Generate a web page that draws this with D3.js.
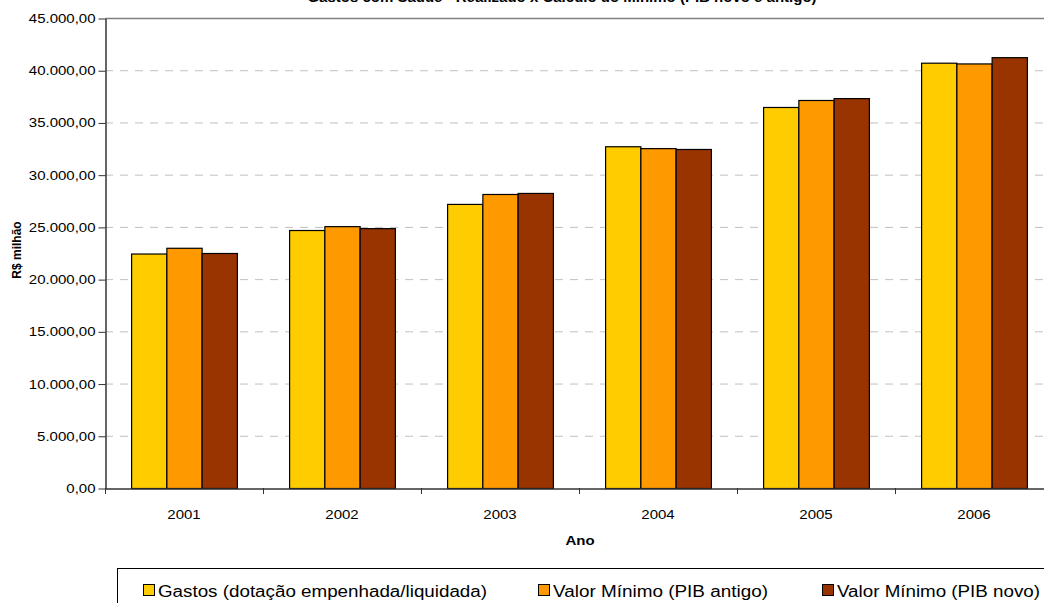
<!DOCTYPE html>
<html>
<head>
<meta charset="utf-8">
<script src="https://cdnjs.cloudflare.com/ajax/libs/d3/7.8.5/d3.min.js"></script>
<style>
  body { margin: 0; background: #fff; }
  svg { font-family: "Liberation Sans", Arial, sans-serif; }
</style>
</head>
<body>
<div id="chart"></div>
<script>
var svgWidth = 1044;
var svgHeight = 603;

// data
var years = ["2001", "2002", "2003", "2004", "2005", "2006"];
var seriesNames = ["Gastos (dotação empenhada/liquidada)", "Valor Mínimo (PIB antigo)", "Valor Mínimo (PIB novo)"];
var gastos   = [22450, 24700, 27200, 32720, 36480, 40720];
var pibAntigo = [23000, 25070, 28150, 32540, 37150, 40650];
var pibNovo   = [22500, 24880, 28250, 32460, 37330, 41250];
var yTicks = [0, 5000, 10000, 15000, 20000, 25000, 30000, 35000, 40000, 45000];
var colors = ["#FFCC00", "#FF9900", "#993300"];

var margin = { top: 18, left: 105 };
var plotRight = 1053;
var plotBottom = 488;
var fontFam = "'Liberation Sans', Arial, sans-serif";
var stretch = 1.2; // the original picture is a bit wider than tall

var svg = d3.select("#chart")
  .append("svg")
  .attr("width", svgWidth)
  .attr("height", svgHeight);

// widen a text selection horizontally
function widen(sel, k) {
  sel.each(function() {
    var len = this.getComputedTextLength();
    d3.select(this)
      .attr("textLength", len * k)
      .attr("lengthAdjust", "spacingAndGlyphs");
  });
}

// title (cut off by the top edge like the original)
svg.append("text")
  .attr("x", 562)
  .attr("y", 1.5)
  .attr("text-anchor", "middle")
  .style("font-size", "15px")
  .style("font-weight", "bold")
  .text("Gastos com Saúde - Realizado x Cálculo do Mínimo (PIB novo e antigo)");

var xScale = d3.scaleBand()
  .domain(years)
  .range([margin.left, plotRight]);

var xInner = d3.scaleBand()
  .domain(d3.range(3))
  .range([0, xScale.bandwidth()])
  .paddingOuter(0.74)
  .paddingInner(0);

var yScale = d3.scaleLinear()
  .domain([0, 45000])
  .range([plotBottom, margin.top]);

var fmt = d3.formatLocale({ decimal: ",", thousands: ".", grouping: [3], currency: ["R$", ""] }).format(",.2f");

// gridlines
svg.append("g")
  .selectAll("line")
  .data(yTicks.filter(d => d > 0 && d < 45000))
  .enter()
  .append("line")
  .attr("x1", margin.left)
  .attr("x2", plotRight)
  .attr("y1", d => yScale(d) + 0.5)
  .attr("y2", d => yScale(d) + 0.5)
  .attr("stroke", "#c0c0c0")
  .attr("stroke-dasharray", "8,7");

// top border of plot area
svg.append("line")
  .attr("x1", margin.left)
  .attr("x2", plotRight)
  .attr("y1", yScale(45000) + 0.5)
  .attr("y2", yScale(45000) + 0.5)
  .attr("stroke", "#808080")
  .attr("stroke-width", 1.5);

// bars
var series = [gastos, pibAntigo, pibNovo];
var groups = svg.append("g")
  .selectAll("g")
  .data(years)
  .enter()
  .append("g")
  .attr("transform", d => `translate(${xScale(d)},0)`);

groups.selectAll("rect")
  .data((d, i) => series.map((s, k) => ({ k: k, v: s[i] })))
  .enter()
  .append("rect")
  .attr("x", d => xInner(d.k) + 0.5)
  .attr("width", xInner.bandwidth())
  .attr("y", d => yScale(d.v) + 0.5)
  .attr("height", d => yScale(0) - yScale(d.v))
  .attr("fill", d => colors[d.k])
  .attr("stroke", "#000")
  .attr("stroke-width", 1.2);

// y axis
var leftAxis = d3.axisLeft(yScale)
  .tickValues(yTicks)
  .tickFormat(fmt)
  .tickSize(7)
  .tickPadding(3)
  .tickSizeOuter(0);

var yAxis = svg.append("g")
  .attr("transform", `translate(${margin.left + 0.5},0.5)`)
  .call(leftAxis);
yAxis.select(".domain").attr("stroke", "#333").attr("stroke-width", 1.5);
yAxis.selectAll(".tick line").attr("stroke", "#333");
yAxis.selectAll("text")
  .style("font-size", "12.5px")
  .style("font-family", fontFam)
  .attr("fill", "#000")
  .call(widen, stretch);

// x axis
var bottomAxis = d3.axisBottom(xScale)
  .tickSize(0)
  .tickPadding(22)
  .tickSizeOuter(0);

var xAxis = svg.append("g")
  .attr("transform", `translate(0,${plotBottom + 0.5})`)
  .call(bottomAxis);
xAxis.select(".domain").attr("stroke", "#333").attr("stroke-width", 1.5);
xAxis.selectAll("text")
  .style("font-size", "12.5px")
  .style("font-family", fontFam)
  .attr("fill", "#000")
  .call(widen, stretch);

// category boundary ticks
svg.append("g")
  .selectAll("line")
  .data(years)
  .enter()
  .append("line")
  .attr("x1", d => xScale(d) + 0.5)
  .attr("x2", d => xScale(d) + 0.5)
  .attr("y1", plotBottom)
  .attr("y2", plotBottom + 6)
  .attr("stroke", "#333");

// axis titles
svg.append("text")
  .attr("x", 580)
  .attr("y", 545)
  .attr("text-anchor", "middle")
  .style("font-size", "12.5px")
  .style("font-weight", "bold")
  .text("Ano")
  .call(widen, stretch);

svg.append("text")
  .attr("transform", "rotate(-90)")
  .attr("x", -250)
  .attr("y", 21)
  .attr("text-anchor", "middle")
  .style("font-size", "12px")
  .style("font-weight", "bold")
  .text("R$ milhão");

// legend
var legend = svg.append("g");
legend.append("rect")
  .attr("x", 117.5)
  .attr("y", 568.5)
  .attr("width", 940)
  .attr("height", 60)
  .attr("fill", "#fff")
  .attr("stroke", "#000");

var legendX = [143, 538, 822];
var legendLen = [329, 215, 203];
var items = legend.selectAll(".item")
  .data(seriesNames)
  .enter()
  .append("g")
  .attr("transform", (d, i) => `translate(${legendX[i]},584)`);

items.append("rect")
  .attr("x", 0.5)
  .attr("y", 0.5)
  .attr("width", 11)
  .attr("height", 11)
  .attr("fill", (d, i) => colors[i])
  .attr("stroke", "#000");

items.append("text")
  .attr("x", 15)
  .attr("y", 12.5)
  .attr("textLength", (d, i) => legendLen[i])
  .attr("lengthAdjust", "spacingAndGlyphs")
  .style("font-size", "16px")
  .text(d => d);
</script>
</body>
</html>
